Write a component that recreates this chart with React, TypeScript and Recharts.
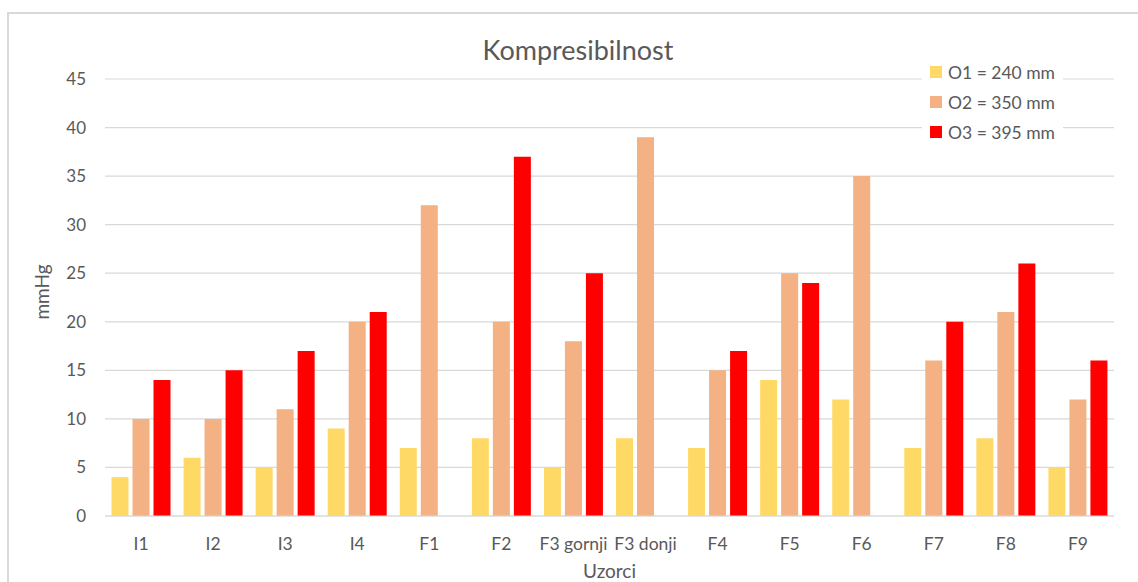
import { BarChart, Bar, XAxis, YAxis, CartesianGrid, Label } from 'recharts';

const categories = ['I1', 'I2', 'I3', 'I4', 'F1', 'F2', 'F3 gornji', 'F3 donji', 'F4', 'F5', 'F6', 'F7', 'F8', 'F9'];
const o1 = [4, 6, 5, 9, 7, 8, 5, 8, 7, 14, 12, 7, 8, 5];
const o2 = [10, 10, 11, 20, 32, 20, 18, 39, 15, 25, 35, 16, 21, 12];
const o3 = [14, 15, 17, 21, null, 37, 25, null, 17, 24, null, 20, 26, 16];
const yTicks = [0, 5, 10, 15, 20, 25, 30, 35, 40, 45];

const seriesInfo = [
  { key: 'o1', name: 'O1 = 240 mm', color: '#FFD966' },
  { key: 'o2', name: 'O2 = 350 mm', color: '#F4B183' },
  { key: 'o3', name: 'O3 = 395 mm', color: '#FF0000' },
];

const chartData = categories.map((name, i) => ({ name, o1: o1[i], o2: o2[i], o3: o3[i] }));

const FONT = 'Lato, "Open Sans", sans-serif';
const TEXT = '#595959';

export default function App() {
  return (
    <div style={{ position: 'absolute', left: 0, top: 0, width: 1138, height: 582, overflow: 'hidden', background: '#fff', fontFamily: FONT }}>
      <div style={{ position: 'absolute', left: 7, top: 12, width: 1200, height: 700, border: '2px solid #d9d9d9', boxSizing: 'border-box' }} />
      <div style={{ position: 'absolute', left: 0, top: 33, width: 1156, textAlign: 'center', fontSize: 27, color: TEXT }}>
        Kompresibilnost
      </div>
      <div style={{ position: 'absolute', left: 0, top: 0 }}>
        <BarChart
          width={1138}
          height={582}
          data={chartData}
          margin={{ top: 79, right: 24, bottom: 0, left: 0 }}
          barCategoryGap={6.5}
          barGap={4}
        >
          <CartesianGrid vertical={false} stroke="#d9d9d9" strokeWidth={1.2} />
          <XAxis
            dataKey="name"
            height={66}
            stroke="#d9d9d9"
            tickLine={false}
            tickMargin={16}
            tick={{ fill: TEXT, fontSize: 17.5, fontFamily: FONT }}
            interval={0}
          >
            <Label value="Uzorci" position="insideBottom" offset={4} style={{ fill: TEXT, fontSize: 19, fontFamily: FONT }} />
          </XAxis>
          <YAxis
            width={105}
            domain={[0, 45]}
            ticks={yTicks}
            axisLine={false}
            tickLine={false}
            tickSize={0}
            tickMargin={19}
            tick={{ fill: TEXT, fontSize: 17, fontFamily: FONT }}
          >
            <Label
              content={() => (
                <text x={49} y={292} transform="rotate(-90, 49, 292)" textAnchor="middle" fill={TEXT} fontSize={19} fontFamily={FONT}>
                  mmHg
                </text>
              )}
            />
          </YAxis>
          {seriesInfo.map(s => (
            <Bar key={s.key} dataKey={s.key} name={s.name} fill={s.color} isAnimationActive={false} />
          ))}
        </BarChart>
      </div>
      <div style={{ position: 'absolute', left: 922, top: 58, width: 141, height: 90, background: '#fff' }}>
        {seriesInfo.map((s, i) => (
          <div key={s.key} style={{ position: 'absolute', left: 8, top: 5 + i * 30, height: 18, display: 'flex', alignItems: 'center', whiteSpace: 'nowrap' }}>
            <span style={{ display: 'inline-block', width: 12, height: 12, background: s.color, marginRight: 6 }} />
            <span style={{ fontSize: 17.5, color: TEXT }}>{s.name}</span>
          </div>
        ))}
      </div>
    </div>
  );
}
